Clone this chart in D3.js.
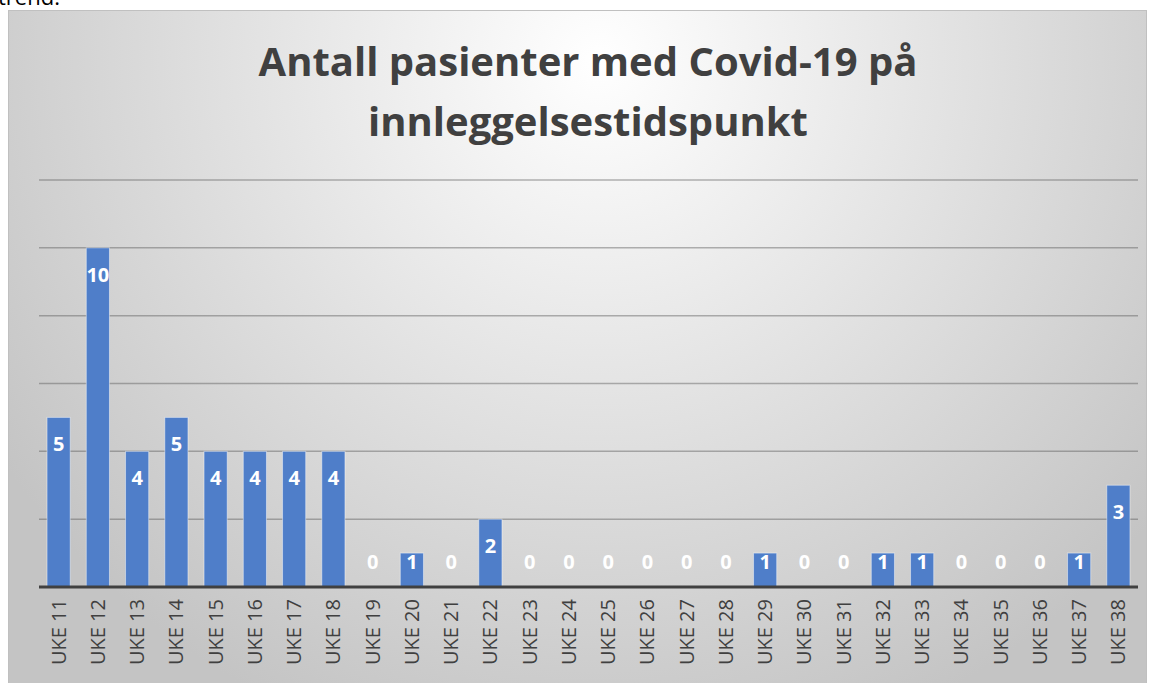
<!DOCTYPE html>
<html>
<head>
<meta charset="utf-8">
<script src="https://cdn.jsdelivr.net/npm/d3@7"></script>
<style>
  body { margin: 0; background: #fff; overflow: hidden; }
  svg { display: block; }
</style>
</head>
<body>
<div id="chart"></div>
<script>
// données
const uker = ["UKE 11", "UKE 12", "UKE 13", "UKE 14", "UKE 15", "UKE 16", "UKE 17", "UKE 18", "UKE 19", "UKE 20",
  "UKE 21", "UKE 22", "UKE 23", "UKE 24", "UKE 25", "UKE 26", "UKE 27", "UKE 28", "UKE 29", "UKE 30",
  "UKE 31", "UKE 32", "UKE 33", "UKE 34", "UKE 35", "UKE 36", "UKE 37", "UKE 38"];
const pasienter = [5, 10, 4, 5, 4, 4, 4, 4, 0, 1, 0, 2, 0, 0, 0, 0, 0, 0, 1, 0, 0, 1, 1, 0, 0, 0, 1, 3];
const yTicks = [0, 2, 4, 6, 8, 10, 12];
const tittel = ["Antall pasienter med Covid-19 på", "innleggelsestidspunkt"];

const largeur = 1152;
const hauteur = 683;
const svg = d3.select("#chart").append("svg")
  .attr("width", largeur)
  .attr("height", hauteur);

// fond dégradé
const defs = svg.append("defs");
const grad = defs.append("radialGradient")
  .attr("id", "fond")
  .attr("gradientUnits", "userSpaceOnUse")
  .attr("cx", 600).attr("cy", 60).attr("r", 720);
grad.append("stop").attr("offset", "0%").attr("stop-color", "#ffffff");
grad.append("stop").attr("offset", "100%").attr("stop-color", "#c4c4c4");

// bout de texte coupé en haut (comme sur l'original)
svg.append("text")
  .attr("x", -2).attr("y", 5)
  .style("font-family", "'Open Sans', sans-serif")
  .style("font-size", "22px")
  .attr("fill", "#000")
  .text("trend.");

svg.append("rect")
  .attr("x", 8.5).attr("y", 10.5)
  .attr("width", 1138).attr("height", 690)
  .attr("fill", "url(#fond)")
  .attr("stroke", "#c0c0c0");

// titre
svg.append("g").selectAll("text")
  .data(tittel)
  .join("text")
  .attr("x", 588)
  .attr("y", (d, i) => 76 + i * 60)
  .attr("text-anchor", "middle")
  .style("font-family", "'Open Sans', sans-serif")
  .style("font-weight", "bold")
  .style("font-size", "40px")
  .attr("fill", "#404040")
  .text(d => d);

const x = d3.scaleBand()
  .domain(uker)
  .range([39, 1138])
  .paddingInner(0.41)
  .paddingOuter(0.205);

const y = d3.scaleLinear()
  .domain([0, 12])
  .range([587, 180]);

// lignes de grille
svg.append("g").selectAll("line")
  .data(yTicks.filter(t => t > 0))
  .join("line")
  .attr("x1", 39).attr("x2", 1138)
  .attr("y1", d => y(d)).attr("y2", d => y(d))
  .attr("stroke", "rgba(90,90,90,0.45)")
  .attr("stroke-width", 1.5);

// barres
svg.append("g").selectAll("rect")
  .data(pasienter)
  .join("rect")
  .attr("x", (d, i) => x(uker[i]))
  .attr("y", d => y(d))
  .attr("width", x.bandwidth())
  .attr("height", d => y(0) - y(d))
  .attr("fill", "#4f7ec9")
  .attr("stroke", "rgba(255,255,255,0.45)")
  .attr("stroke-width", 1);

// axe x
const axeX = svg.append("g")
  .attr("transform", `translate(0,${y(0)})`)
  .call(d3.axisBottom(x).tickSize(0).tickPadding(0));
axeX.select(".domain").remove();
axeX.selectAll("text")
  .attr("transform", "rotate(-90)")
  .attr("x", -12)
  .attr("y", 0)
  .attr("dy", "0.35em")
  .attr("text-anchor", "end")
  .style("font-family", "'Open Sans', sans-serif")
  .style("font-size", "20px")
  .attr("fill", "#404040");

svg.append("line")
  .attr("x1", 39).attr("x2", 1138)
  .attr("y1", y(0)).attr("y2", y(0))
  .attr("stroke", "#404040")
  .attr("stroke-width", 3);

// étiquettes de valeur
svg.append("g").selectAll("text")
  .data(pasienter)
  .join("text")
  .attr("x", (d, i) => x(uker[i]) + x.bandwidth() / 2)
  .attr("y", d => Math.min(y(d) + 27, y(0) - 25))
  .attr("dy", "0.35em")
  .attr("text-anchor", "middle")
  .style("font-family", "'Open Sans', sans-serif")
  .style("font-weight", "bold")
  .style("font-size", "20px")
  .attr("fill", "#fff")
  .text(d => d);
</script>
</body>
</html>
